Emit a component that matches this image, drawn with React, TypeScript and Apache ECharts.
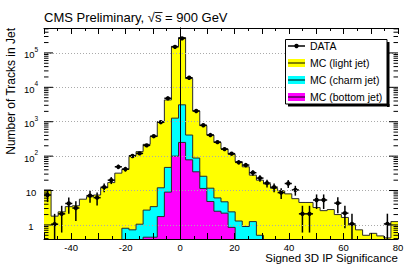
import React, { useEffect, useRef } from "react";
import * as echarts from "echarts";

// ---- axis ranges / binning ----
const X_MIN = -50;
const X_MAX = 80;
const BIN_WIDTH = 2.6;
const Y_MIN = 0.39;
const Y_MAX = 5.3e5;

// ---- MC stacked histogram tops (50 bins) ----
// top of the full stack (light + charm + bottom), visible yellow outline
const mcLightStackTop = [
  10.4, 1.8, 2.4, 3.4, 3.6, 5.6, 6.6, 7.4, 12, 17,
  32, 41, 103, 135, 220, 370, 1000, 4300, 155000, 280000,
  18000, 2050, 770, 410, 250, 160, 113, 69, 49, 28,
  20, 15.5, 11.6, 9.9, 8, 5.8, 4.5, 4.5, 3.2, 2.6,
  2.8, 2.0, 1.65, 1.0, 0.72, 0.5, 0.57, 0.48, 0.42, 1.25,
];
// top of charm + bottom, visible cyan outline
const mcCharmStackTop = [
  0, 0, 0, 0, 0, 0, 0, 0, 0, 0,
  0, 0.8, 0.72, 1.05, 2.7, 3.4, 12, 47, 1270, 3100,
  410, 88, 26, 11.7, 6.1, 4.7, 2.4, 1.3, 0.9, 1.25,
  0.5, 0, 0, 0, 0, 0, 0, 0, 0, 0,
  0, 0, 0, 0, 0, 0, 0, 0, 0, 0,
];
// bottom jets, magenta
const mcBottom = [
  0, 0, 0, 0, 0, 0, 0, 0, 0, 0,
  0, 0, 0, 0, 0.44, 0.44, 1.75, 9, 100, 250,
  78, 35, 11.5, 4.8, 2.5, 2.2, 0.85, 0, 0, 0,
  0, 0, 0, 0, 0, 0, 0, 0, 0, 0,
  0, 0, 0, 0, 0, 0, 0, 0, 0, 0,
];

// ---- data points (null = empty bin) and their errors ----
const dataValues = [
  7.4, 1.05, 2.1, 4.2, 3.1, null, 7.1, 6.2, 12.5, 20,
  49, 42, 101, 120, 205, 380, 970, 4800, 150000, 265000,
  19000, 2050, 790, 410, 255, 160, 118, 66, 55, 33,
  23, 16.5, 12.5, 8.7, 16, 10.4, 2.1, 2.1, 5.3, 5.3,
  null, 4.3, 2.2, 1.07, null, null, null, null, 1.07, null,
];
const dataErrors = [
  2.8, 1.05, 1.5, 2.1, 1.8, 0, 2.7, 2.5, 3.6, 4.6,
  7.2, 6.6, 10, 11, 14.5, 20, 32, 70, 400, 530,
  140, 46, 28, 20, 16, 13, 11, 8.3, 7.6, 5.9,
  4.9, 4.2, 3.6, 3, 4.1, 3.3, 1.5, 1.5, 2.4, 2.4,
  0, 2.1, 1.4, 1.05, 0, 0, 0, 0, 1.05, 0,
];

const xTickLabels = [-40, -20, 0, 20, 40, 60, 80];

const FONT = "Liberation Sans, Arial, Helvetica, sans-serif";
const FLOOR = 1e-3;

function stepPoints(vals: number[]) {
  const pts: number[][] = vals.map((v, i) => [X_MIN + i * BIN_WIDTH, v > 0 ? v : FLOOR]);
  const last = vals[vals.length - 1];
  pts.push([X_MAX, last > 0 ? last : FLOOR]);
  return pts;
}

function histSeries(vals: number[], fill: string, z: number) {
  return {
    type: "line",
    xAxisIndex: 0,
    yAxisIndex: 0,
    data: stepPoints(vals),
    step: "end",
    symbol: "none",
    showSymbol: false,
    clip: true,
    z,
    lineStyle: { color: "#2a2a2a", width: 1 },
    areaStyle: { color: fill, opacity: 1, origin: "start" },
    silent: true,
  };
}

export default function App() {
  const ref = useRef<HTMLDivElement>(null);

  useEffect(() => {
    if (!ref.current) return;
    const chart = echarts.init(ref.current, null, { renderer: "svg" });

    const points: number[][] = [];
    dataValues.forEach((v, i) => {
      if (v != null) points.push([X_MIN + (i + 0.5) * BIN_WIDTH, v, dataErrors[i]]);
    });

    const yTicks: number[][] = [];
    for (let d = -1; d <= 5; d++) {
      for (let m = 1; m <= 9; m++) {
        const v = m * Math.pow(10, d);
        if (v >= Y_MIN && v <= Y_MAX) yTicks.push([X_MIN, v, m === 1 ? 1 : 0]);
      }
    }

    const xAxisCommon = {
      type: "value",
      min: X_MIN,
      max: X_MAX,
      interval: 10,
      z: 10,
      axisLine: { show: true, lineStyle: { color: "#000", width: 1 } },
      axisTick: { show: true, inside: true, length: 6, lineStyle: { color: "#000" } },
      minorTick: { show: true, splitNumber: 2, length: 3, lineStyle: { color: "#000" } },
      splitLine: { show: false },
    };

    const option: any = {
      animation: false,
      backgroundColor: "#fff",
      grid: {
        left: 44,
        right: 9,
        top: 28,
        bottom: 37,
        containLabel: false,
        outerBoundsMode: "none",
      },
      xAxis: [
        {
          ...xAxisCommon,
          position: "bottom",
          axisLabel: {
            show: true,
            margin: 3,
            fontFamily: FONT,
            fontSize: 9.5,
            color: "#000",
            formatter: (v: number) => (xTickLabels.indexOf(v) >= 0 ? String(v) : ""),
          },
        },
        {
          ...xAxisCommon,
          position: "top",
          axisLabel: { show: false },
        },
      ],
      yAxis: [
        {
          type: "log",
          logBase: 10,
          min: Y_MIN,
          max: Y_MAX,
          position: "left",
          z: 10,
          axisLine: { show: true, lineStyle: { color: "#000", width: 1 } },
          axisTick: { show: false },
          splitLine: { show: true, lineStyle: { color: "#aaa", type: [1, 2], width: 1 } },
          axisLabel: {
            show: true,
            margin: 13,
            align: "center",
            showMinLabel: false,
            showMaxLabel: false,
            fontFamily: FONT,
            fontSize: 9.5,
            color: "#000",
            formatter: (v: number) => {
              const l = Math.log10(v);
              const e = Math.round(l);
              if (Math.abs(l - e) > 1e-6) return "";
              if (e === 0) return "{b|1}";
              if (e === 1) return "{b|10}";
              return "{b|10}{s|" + e + "}";
            },
            rich: {
              b: { fontFamily: FONT, fontSize: 9.5, color: "#000", lineHeight: 14, verticalAlign: "bottom" },
              s: { fontFamily: FONT, fontSize: 6.5, color: "#000", lineHeight: 14, verticalAlign: "top", padding: [0, 0, 0, 0] },
            },
          },
        },
        {
          type: "log",
          logBase: 10,
          min: Y_MIN,
          max: Y_MAX,
          position: "right",
          z: 10,
          axisLine: { show: true, lineStyle: { color: "#000", width: 1 } },
          axisTick: { show: false },
          splitLine: { show: false },
          axisLabel: { show: false },
        },
      ],
      series: [
        histSeries(mcLightStackTop, "#ffff00", 2),
        histSeries(mcCharmStackTop, "#00ffff", 3),
        histSeries(mcBottom, "#ff00ff", 4),
        {
          type: "custom",
          coordinateSystem: "cartesian2d",
          xAxisIndex: 0,
          yAxisIndex: 0,
          z: 8,
          silent: true,
          data: points,
          renderItem: (params: any, api: any) => {
            const x = api.value(0);
            const v = api.value(1);
            const e = api.value(2);
            const c = api.coord([x, v]);
            const top = api.coord([x, Math.min(v + e, Y_MAX)]);
            const bot = api.coord([x, Math.max(v - e, Y_MIN)]);
            const l = api.coord([x - BIN_WIDTH / 2, v]);
            const r = api.coord([x + BIN_WIDTH / 2, v]);
            return {
              type: "group",
              children: [
                { type: "line", shape: { x1: c[0], y1: top[1], x2: c[0], y2: bot[1] }, style: { stroke: "#000", lineWidth: 1.5 } },
                { type: "line", shape: { x1: l[0], y1: c[1], x2: r[0], y2: c[1] }, style: { stroke: "#000", lineWidth: 1.5 } },
                { type: "circle", shape: { cx: c[0], cy: c[1], r: 2.2 }, style: { fill: "#000" } },
              ],
            };
          },
        },
        {
          type: "custom",
          coordinateSystem: "cartesian2d",
          xAxisIndex: 0,
          yAxisIndex: 0,
          z: 10,
          silent: true,
          data: yTicks,
          renderItem: (params: any, api: any) => {
            const v = api.value(1);
            const major = api.value(2) === 1;
            const p = api.coord([X_MIN, v]);
            const q = api.coord([X_MAX, v]);
            const len = major ? 9 : 4.5;
            return {
              type: "group",
              children: [
                { type: "line", shape: { x1: p[0], y1: p[1], x2: p[0] + len, y2: p[1] }, style: { stroke: "#000", lineWidth: 1 } },
                { type: "line", shape: { x1: q[0] - len, y1: q[1], x2: q[0], y2: q[1] }, style: { stroke: "#000", lineWidth: 1 } },
              ],
            };
          },
        },
      ],
      graphic: [
        {
          type: "text",
          left: 44,
          top: 11,
          style: { text: "CMS Preliminary, √s = 900 GeV", fontFamily: FONT, fontSize: 13, fill: "#000" },
        },
        { type: "line", shape: { x1: 155, y1: 12.5, x2: 162.5, y2: 12.5 }, style: { stroke: "#000", lineWidth: 0.9 } },
        {
          type: "text",
          x: 11,
          y: 28,
          rotation: Math.PI / 2,
          style: {
            text: "Number of Tracks in Jet",
            fontFamily: FONT,
            fontSize: 12,
            fill: "#000",
            align: "right",
            verticalAlign: "middle",
          },
        },
        {
          type: "text",
          x: 398,
          y: 258,
          style: {
            text: "Signed 3D IP Significance",
            fontFamily: FONT,
            fontSize: 11.5,
            fill: "#000",
            align: "right",
            verticalAlign: "middle",
          },
        },
        // legend
        { type: "rect", shape: { x: 387, y: 42, width: 2.5, height: 65 }, style: { fill: "#000" }, z: 20 },
        { type: "rect", shape: { x: 288, y: 104, width: 101.5, height: 2.5 }, style: { fill: "#000" }, z: 20 },
        { type: "rect", shape: { x: 285.5, y: 39.5, width: 101.5, height: 64.5 }, style: { fill: "#fff", stroke: "#000", lineWidth: 1 }, z: 21 },
        { type: "line", shape: { x1: 288, y1: 46, x2: 305, y2: 46 }, style: { stroke: "#000", lineWidth: 1.5 }, z: 22 },
        { type: "circle", shape: { cx: 296.5, cy: 46, r: 2.2 }, style: { fill: "#000" }, z: 22 },
        { type: "text", x: 310, y: 46, style: { text: "DATA", fontFamily: FONT, fontSize: 10.5, fill: "#000", verticalAlign: "middle" }, z: 22 },
        { type: "rect", shape: { x: 288, y: 59, width: 17, height: 8 }, style: { fill: "#ffff00" }, z: 22 },
        { type: "line", shape: { x1: 288, y1: 63, x2: 305, y2: 63 }, style: { stroke: "#000", lineWidth: 1 }, z: 22 },
        { type: "text", x: 310, y: 63, style: { text: "MC (light jet)", fontFamily: FONT, fontSize: 10.5, fill: "#000", verticalAlign: "middle" }, z: 22 },
        { type: "rect", shape: { x: 288, y: 76, width: 17, height: 8 }, style: { fill: "#00ffff" }, z: 22 },
        { type: "line", shape: { x1: 288, y1: 80, x2: 305, y2: 80 }, style: { stroke: "#000", lineWidth: 1 }, z: 22 },
        { type: "text", x: 310, y: 80, style: { text: "MC (charm jet)", fontFamily: FONT, fontSize: 10.5, fill: "#000", verticalAlign: "middle" }, z: 22 },
        { type: "rect", shape: { x: 288, y: 93, width: 17, height: 8 }, style: { fill: "#ff00ff" }, z: 22 },
        { type: "line", shape: { x1: 288, y1: 97, x2: 305, y2: 97 }, style: { stroke: "#000", lineWidth: 1 }, z: 22 },
        { type: "text", x: 310, y: 97, style: { text: "MC (bottom jet)", fontFamily: FONT, fontSize: 10.5, fill: "#000", verticalAlign: "middle" }, z: 22 },
      ],
    };

    chart.setOption(option);
    return () => chart.dispose();
  }, []);

  return (
    <div
      ref={ref}
      style={{ position: "fixed", left: 0, top: 0, width: 407, height: 276, background: "#fff" }}
    />
  );
}
